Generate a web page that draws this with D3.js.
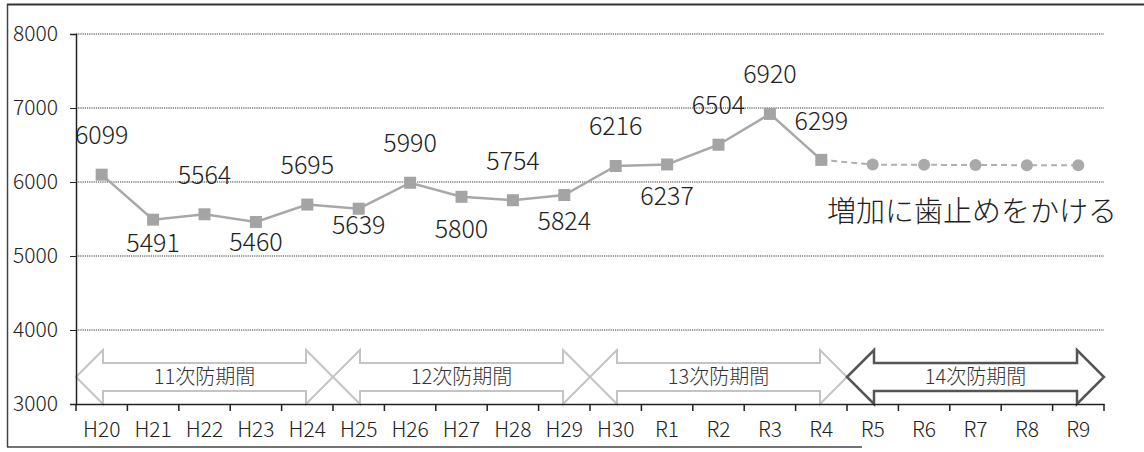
<!DOCTYPE html>
<html>
<head>
<meta charset="utf-8">
<script src="https://cdn.jsdelivr.net/npm/d3@7"></script>
<style>
  body { margin: 0; background: #fff; }
  text { font-family: "Noto Sans CJK JP", "Noto Sans", sans-serif; font-weight: 300; fill: #222; }
</style>
</head>
<body>
<div id="chart"></div>
<script>
// categories (fiscal years)
var years = ["H20", "H21", "H22", "H23", "H24", "H25", "H26", "H27", "H28", "H29",
             "H30", "R1", "R2", "R3", "R4", "R5", "R6", "R7", "R8", "R9"];
// actual values H20..R4
var actual = [6099, 5491, 5564, 5460, 5695, 5639, 5990, 5800, 5754, 5824,
              6216, 6237, 6504, 6920, 6299];
// target line R4..R9
var targetYears = ["R4", "R5", "R6", "R7", "R8", "R9"];
var target = [6299, 6235, 6232, 6230, 6227, 6225];
var yTicks = [3000, 4000, 5000, 6000, 7000, 8000];
// plan periods
var periods = [
  { name: "11次防期間", from: "H20", to: "H24" },
  { name: "12次防期間", from: "H25", to: "H29" },
  { name: "13次防期間", from: "H30", to: "R4" },
  { name: "14次防期間", from: "R5", to: "R9" }
];
var note = "増加に歯止めをかける";
// label placement: pixel shift from point to label centre
var labelShift = [-40, 23, -39, 20, -40, 16, -40, 32, -39, 26, -40, 32, -40, -40, -39];

var W = 1144, H = 452;
var margin = { top: 34, right: 40, bottom: 48, left: 76 };
var width = W - margin.left - margin.right,
    height = H - margin.top - margin.bottom;

var svgRoot = d3.select("#chart").append("svg")
  .attr("width", W)
  .attr("height", H);

// outer frame (scan shows no right edge)
svgRoot.append("line").attr("x1", 7).attr("x2", W).attr("y1", 4.5).attr("y2", 4.5)
  .attr("stroke", "#333").attr("stroke-width", 2);
svgRoot.append("line").attr("x1", 7.5).attr("x2", 7.5).attr("y1", 4).attr("y2", 447)
  .attr("stroke", "#444").attr("stroke-width", 1.5);
svgRoot.append("line").attr("x1", 7).attr("x2", 862).attr("y1", 447).attr("y2", 447)
  .attr("stroke", "#444").attr("stroke-width", 1.5);

var svg = svgRoot.append("g")
  .attr("transform", "translate(" + margin.left + "," + margin.top + ")");

var x = d3.scaleBand().domain(years).range([0, width]).padding(0);
var y = d3.scaleLinear().domain([3000, 8000]).range([height, 0]);
var cx = function (d) { return x(d) + x.bandwidth() / 2; };

// dotted gridlines
svg.append("g").selectAll("line")
  .data(yTicks.slice(1))
  .enter().append("line")
  .attr("x1", 0).attr("x2", width)
  .attr("y1", function (d) { return y(d); })
  .attr("y2", function (d) { return y(d); })
  .attr("stroke", "#333").attr("stroke-width", 1)
  .attr("stroke-dasharray", "1.2,1");

// period arrows
var aTop = y(3000) - 54, aBot = y(3000), aMid = (aTop + aBot) / 2;
var shaftHalf = 14, head = 27;
function arrowPath(x0, x1) {
  return "M" + x0 + "," + aMid +
    "L" + (x0 + head) + "," + aTop +
    "L" + (x0 + head) + "," + (aMid - shaftHalf) +
    "L" + (x1 - head) + "," + (aMid - shaftHalf) +
    "L" + (x1 - head) + "," + aTop +
    "L" + x1 + "," + aMid +
    "L" + (x1 - head) + "," + aBot +
    "L" + (x1 - head) + "," + (aMid + shaftHalf) +
    "L" + (x0 + head) + "," + (aMid + shaftHalf) +
    "L" + (x0 + head) + "," + aBot + "Z";
}
var arrows = svg.append("g").selectAll("g")
  .data(periods)
  .enter().append("g");
arrows.append("path")
  .attr("d", function (d) { return arrowPath(x(d.from), x(d.to) + x.bandwidth()); })
  .attr("fill", "#fff")
  .attr("stroke", function (d, i) { return i === 3 ? "#555" : "#c4c4c4"; })
  .attr("stroke-width", function (d, i) { return i === 3 ? 2.5 : 2; })
  .attr("stroke-linejoin", "miter");
arrows.append("text")
  .attr("x", function (d) { return (x(d.from) + x(d.to) + x.bandwidth()) / 2; })
  .attr("y", aMid)
  .attr("dy", "0.36em")
  .attr("text-anchor", "middle")
  .style("font-size", "20px")
  .style("fill", "#333")
  .text(function (d) { return d.name; });

// axes
var yAxis = svg.append("g")
  .call(d3.axisLeft(y).tickValues(yTicks).tickSize(6).tickPadding(12).tickFormat(d3.format("d")));
yAxis.select(".domain").attr("stroke", "#222").attr("stroke-width", 1.5);
yAxis.selectAll(".tick line").attr("stroke", "#222");
yAxis.selectAll("text").style("font-size", "21px").style("fill", "#222");

var xAxis = svg.append("g")
  .attr("transform", "translate(0," + height + ")")
  .call(d3.axisBottom(x).tickSize(0).tickPadding(18));
xAxis.select(".domain").attr("stroke", "#222").attr("stroke-width", 1.5);
xAxis.selectAll("text").style("font-size", "21px").style("fill", "#222");
// ticks between categories
svg.append("g").selectAll("line")
  .data(years.concat(["end"]))
  .enter().append("line")
  .attr("x1", function (d, i) { return i * x.bandwidth(); })
  .attr("x2", function (d, i) { return i * x.bandwidth(); })
  .attr("y1", height).attr("y2", height + 7)
  .attr("stroke", "#222").attr("stroke-width", 1.5);

// actual line
var actualYears = years.slice(0, actual.length);
var line = d3.line()
  .x(function (d) { return cx(d[0]); })
  .y(function (d) { return y(d[1]); });
svg.append("path")
  .datum(d3.zip(actualYears, actual))
  .attr("d", line)
  .attr("fill", "none")
  .attr("stroke", "#a8a8a8")
  .attr("stroke-width", 2.5);

// target dashed line
svg.append("path")
  .datum(d3.zip(targetYears, target))
  .attr("d", line)
  .attr("fill", "none")
  .attr("stroke", "#b0b0b0")
  .attr("stroke-width", 2)
  .attr("stroke-dasharray", "6,4");
svg.append("g").selectAll("circle")
  .data(d3.zip(targetYears, target).slice(1))
  .enter().append("circle")
  .attr("cx", function (d) { return cx(d[0]); })
  .attr("cy", function (d) { return y(d[1]); })
  .attr("r", 6)
  .attr("fill", "#aaa");

// square markers
svg.append("g").selectAll("rect")
  .data(d3.zip(actualYears, actual))
  .enter().append("rect")
  .attr("x", function (d) { return cx(d[0]) - 6; })
  .attr("y", function (d) { return y(d[1]) - 6; })
  .attr("width", 12).attr("height", 12)
  .attr("fill", "#a4a4a4");

// data labels
svg.append("g").selectAll("text")
  .data(d3.zip(actualYears, actual))
  .enter().append("text")
  .attr("x", function (d) { return cx(d[0]); })
  .attr("y", function (d, i) { return y(d[1]) + labelShift[i]; })
  .attr("dy", "0.36em")
  .attr("text-anchor", "middle")
  .style("font-size", "25px")
  .style("fill", "#222")
  .text(function (d) { return d[1]; });

// note
svg.append("text")
  .attr("x", 1117 - margin.left)
  .attr("y", 212 - margin.top)
  .attr("dy", "0.36em")
  .attr("text-anchor", "end")
  .style("font-size", "29px")
  .style("fill", "#222")
  .text(note);
</script>
</body>
</html>
